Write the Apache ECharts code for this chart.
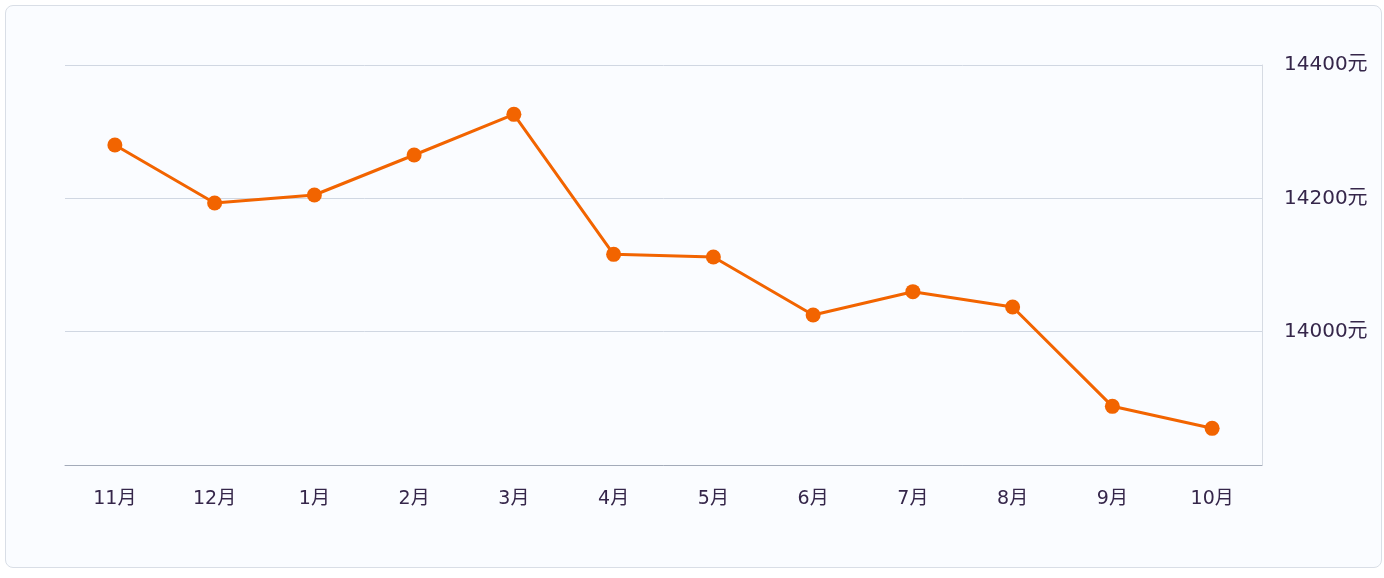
<!DOCTYPE html>
<html><head><meta charset="utf-8">
<script src="https://cdn.jsdelivr.net/npm/echarts@6/dist/echarts.min.js"></script>
<style>
html,body{margin:0;padding:0;background:#ffffff;width:1384px;height:578px;overflow:hidden;}
#card{position:absolute;left:5px;top:5px;width:1375px;height:561px;border:1px solid #d9dee6;border-radius:8px;background:#fafcff;}
#main{position:absolute;left:0;top:0;width:1384px;height:578px;}
</style></head>
<body>
<div id="card"></div>
<div id="main"></div>
<script>
const categories = ['11月','12月','1月','2月','3月','4月','5月','6月','7月','8月','9月','10月'];
const prices = [14280, 14193, 14205, 14265, 14326, 14116, 14112, 14025, 14060, 14037, 13888, 13855];
const yMin = 13800, yMax = 14400, yStep = 200;

const chart = echarts.init(document.getElementById('main'), null, {renderer:'canvas'});
const font = '"DejaVu Sans", "Noto Sans CJK SC", sans-serif';
chart.setOption({
  backgroundColor:'transparent',
  animation:false,
  grid:{left:65, right:122, top:65, bottom:113},
  xAxis:{
    type:'category', data:categories, boundaryGap:true,
    axisLine:{lineStyle:{color:'#a3abb9', width:1}},
    axisTick:{alignWithLabel:true, length:6, lineStyle:{color:'#c5cad3'}},
    axisLabel:{margin:25, color:'#35264a', fontSize:19, fontFamily:font}
  },
  yAxis:{
    type:'value', position:'right', min:yMin, max:yMax, interval:yStep,
    axisLine:{show:true, lineStyle:{color:'#d6dbe3'}},
    axisTick:{show:false},
    splitLine:{lineStyle:{color:'#d0d7e2'}},
    axisLabel:{margin:22, color:'#35264a', fontSize:20, fontFamily:font,
      padding:[4,0,0,0],
      formatter:function(v){return v===yMin?'':v+'元';}}
  },
  series:[{
    type:'line', data:prices,
    symbol:'circle', symbolSize:15,
    lineStyle:{color:'#f26400', width:3},
    itemStyle:{color:'#f26400'}
  }]
});
</script>
</body></html>
